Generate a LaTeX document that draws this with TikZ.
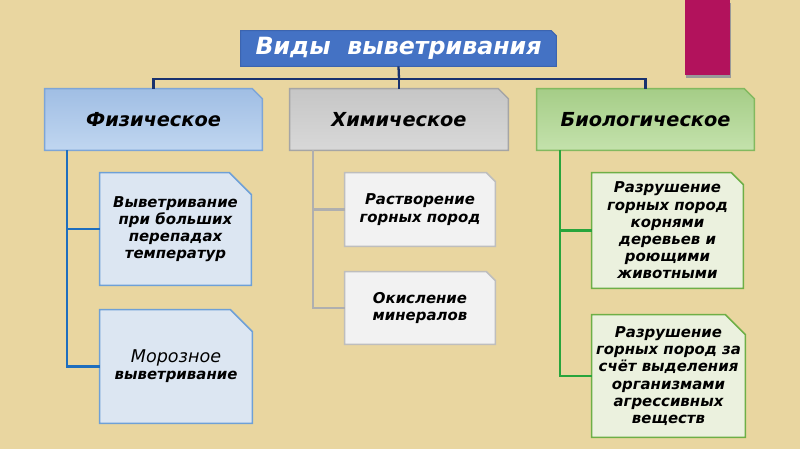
\documentclass[tikz,border=0pt]{standalone}
\usepackage{fontspec}
\setmainfont{DejaVu Sans}
\usetikzlibrary{backgrounds}

\definecolor{paper}{RGB}{233,214,160}
\definecolor{berry}{RGB}{178,18,92}
\definecolor{navy}{RGB}{25,50,110}
\definecolor{physblue}{RGB}{30,110,190}
\definecolor{chemgray}{RGB}{175,175,175}
\definecolor{biogreen}{RGB}{40,165,60}

\tikzset{
  box/.style={rectangle,inner sep=0pt,align=center,
    font={\fontsize{8.5}{9.8}\selectfont\bfseries\itshape}},
  catbox/.style={box,minimum width=4.34cm,minimum height=1.22cm,
    font={\fontsize{11}{13}\selectfont\bfseries\itshape}},
  titlebg/.style={fill={rgb,255:red,68;green,114;blue,196},draw={rgb,255:red,60;green,100;blue,175},line width=.6pt},
  physbg/.style={top color={rgb,255:red,160;green,190;blue,228},bottom color={rgb,255:red,192;green,214;blue,240},draw={rgb,255:red,125;green,165;blue,215},line width=.8pt},
  chembg/.style={top color={rgb,255:red,198;green,198;blue,198},bottom color={rgb,255:red,216;green,216;blue,216},draw={rgb,255:red,165;green,165;blue,165},line width=.8pt},
  biobg/.style={top color={rgb,255:red,165;green,205;blue,135},bottom color={rgb,255:red,196;green,226;blue,172},draw={rgb,255:red,130;green,185;blue,95},line width=.8pt},
  physsub/.style={fill={rgb,255:red,220;green,230;blue,242},draw={rgb,255:red,110;green,160;blue,215},line width=.9pt},
  chemsub/.style={fill={rgb,255:red,242;green,242;blue,242},draw={rgb,255:red,190;green,190;blue,190},line width=.9pt},
  biosub/.style={fill={rgb,255:red,235;green,241;blue,222},draw={rgb,255:red,110;green,175;blue,70},line width=.9pt},
  link/.style={line width=1.3pt}
}

\begin{document}
\begin{tikzpicture}[x=0.02cm,y=-0.02cm]
  \useasboundingbox (0,0) rectangle (800,449);

  % headings
  \node[box,minimum width=6.3cm,minimum height=.7cm,text=white,
    font={\fontsize{13.5}{15}\selectfont\bfseries\itshape}] (title) at (398.5,48.5) {Виды\ \ выветривания};
  \node[catbox] (phys) at (153.5,119.5) {Физическое};
  \node[catbox,minimum width=4.36cm] (chem) at (399,119.5) {Химическое};
  \node[catbox] (bio) at (645.5,119.5) {Биологическое};

  % sub boxes
  \node[box,minimum width=3.02cm,minimum height=2.24cm] (phys1) at (175.5,229)
    {Выветривание\\при больших\\перепадах\\температур};
  \node[box,minimum width=3.04cm,minimum height=2.26cm] (phys2) at (176,366.5)
    {{\fontsize{10}{12}\selectfont\mdseries Морозное}\\выветривание};
  \node[box,minimum width=3cm,minimum height=1.46cm] (chem1) at (420,209.5)
    {Растворение\\горных пород};
  \node[box,minimum width=3cm,minimum height=1.44cm] (chem2) at (420,308)
    {Окисление\\минералов};
  \node[box,minimum width=3.02cm,minimum height=2.3cm] (bio1) at (667.5,230.5)
    {Разрушение\\горных пород\\корнями\\деревьев и\\роющими\\животными};
  \node[box,minimum width=3.06cm,minimum height=2.44cm] (bio2) at (668.5,376)
    {Разрушение\\горных пород за\\счёт выделения\\организмами\\агрессивных\\веществ};

  % tree
  \coordinate (hub) at (399,79);
  \draw[link,navy] (title.south) -- (hub);
  \draw[link,navy] (phys.north) |- (hub) -| (bio.north);
  \draw[link,navy] (hub) -- (chem.north);
  \draw[link,physblue] ([xshift=.44cm]phys.south west) |- (phys1.west);
  \draw[link,physblue] ([xshift=.44cm]phys.south west) |- (phys2.west);
  \draw[link,chemgray] ([xshift=.46cm]chem.south west) |- (chem1.west);
  \draw[link,chemgray] ([xshift=.46cm]chem.south west) |- (chem2.west);
  \draw[link,biogreen] ([xshift=.46cm]bio.south west) |- (bio1.west);
  \draw[link,biogreen] ([xshift=.46cm]bio.south west) |- (bio2.west);

  \begin{pgfonlayer}{background}
    \fill[paper] (0,0) rectangle (800,449);
    \fill[black!40] (686,3) rectangle (731,78);
    \fill[berry] (685,0) rectangle (730,75);
    % snipped corners
    \foreach \n/\s/\c in {title/5/titlebg,phys/10/physbg,chem/10/chembg,bio/10/biobg,
        phys1/22/physsub,phys2/22/physsub,chem1/9/chemsub,chem2/9/chemsub,
        bio1/12/biosub,bio2/20/biosub}
      \filldraw[\c] (\n.south west) |- ([xshift=-\s*0.02cm]\n.north east)
        -- ([yshift=-\s*0.02cm]\n.north east) -- (\n.south east) -- cycle;
  \end{pgfonlayer}
\end{tikzpicture}
\end{document}
